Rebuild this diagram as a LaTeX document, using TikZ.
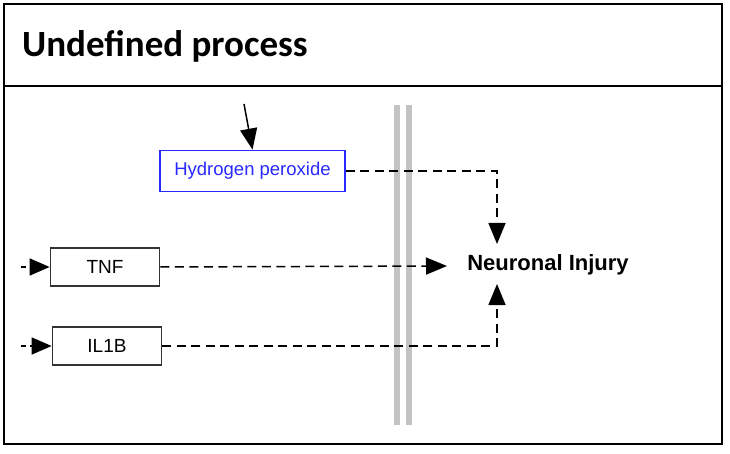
\documentclass[tikz,border=0pt]{standalone}
\usepackage{fontspec}
\setmainfont{Liberation Sans}
\newfontfamily\titlefont{Carlito}
\usetikzlibrary{arrows.meta}
\definecolor{hpblue}{RGB}{40,40,255}
\definecolor{bargrey}{RGB}{195,195,195}
\tikzset{
  genebox/.style={draw=black!80, line width=1.7pt, minimum width=109pt, minimum height=38pt, inner sep=0pt, font=\fontsize{19}{22}\selectfont},
  metabox/.style={draw=hpblue, line width=1.8pt, text=hpblue, minimum width=185pt, minimum height=41pt, inner sep=0pt, font=\fontsize{18.5}{21}\selectfont},
  conn/.style={line width=1.5pt, dash pattern=on 9pt off 5.5pt, -{Triangle[length=21pt,width=17pt]}},
  stubconn/.style={line width=1.5pt, dash pattern=on 5pt off 4pt, -{Triangle[length=20pt,width=17pt]}},
  solidconn/.style={line width=1.5pt, -{Triangle[length=21pt,width=17pt]}},
  frame/.style={line width=2.5pt, draw=black},
  bar/.style={line width=6pt, draw=bargrey}
}
\begin{document}
\begin{tikzpicture}[x=1pt,y=-1pt]
\useasboundingbox (0,0) rectangle (730,454);
\draw[frame] (4,4) rectangle (722,444);
\draw[frame] (4,86) -- (722,86);
\node[anchor=base west, inner sep=0pt, font=\titlefont\bfseries\fontsize{37}{40}\selectfont] (title) at (22,57) {Undefined process};
% compartment bar
\draw[bar] (396.5,105) -- (396.5,425);
\draw[bar] (408.5,105) -- (408.5,425);
% nodes
\node[metabox] (hp) at (252.5,171) {Hydrogen peroxide};
\node[genebox] (tnf) at (105,267) {TNF};
\node[genebox] (il1b) at (107,346) {IL1B};
\node[inner sep=0pt, font=\bfseries\fontsize{22}{24}\selectfont] (ni) at (548,265) {Neuronal Injury};
% free ends
\coordinate (hpsrc) at (244,104);
\coordinate (tnfsrc) at (21,267);
\coordinate (il1bsrc) at (21,346);
\coordinate (top) at (497,171);
\coordinate (bot) at (497,346);
\coordinate (nitop) at (497,244);
\coordinate (nibot) at (497,284);
\coordinate (nileft) at (447,266);
% connectors
\draw[solidconn] (hpsrc) -- (hp.north);
\draw[stubconn] (tnfsrc) -- (tnf.west);
\draw[stubconn] (il1bsrc) -- (il1b.west);
\draw[conn] (hp.east) -- (top) -- (nitop);
\draw[conn] (tnf.east) -- (nileft);
\draw[conn] (il1b.east) -- (bot) -- (nibot);
\end{tikzpicture}
\end{document}
